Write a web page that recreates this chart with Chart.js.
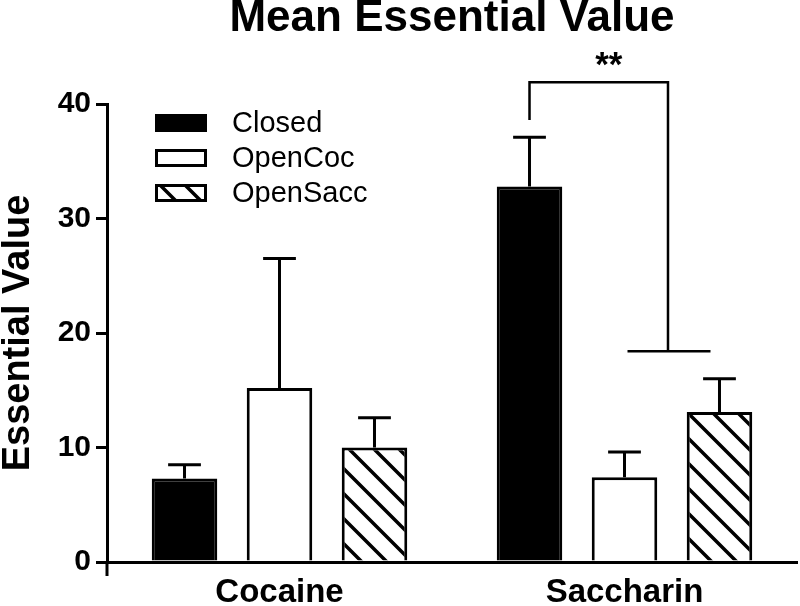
<!DOCTYPE html>
<html>
<head>
<meta charset="utf-8">
<script src="https://cdn.jsdelivr.net/npm/chart.js@4.4.1/dist/chart.umd.min.js"></script>
<style>
  html, body { margin: 0; padding: 0; background: #ffffff; }
  #wrap { width: 800px; height: 606px; }
</style>
</head>
<body>
<div id="wrap"><canvas id="c" width="800" height="606"></canvas></div>
<script>
// ---- data ----
const categories = ['Cocaine', 'Saccharin'];
const seriesNames = ['Closed', 'OpenCoc', 'OpenSacc'];
const closedMeans = [7.3, 32.8];
const openCocMeans = [15.2, 7.4];
const openSaccMeans = [10.0, 13.1];
const closedSem = [1.2, 4.3];
const openCocSem = [11.3, 2.2];
const openSaccSem = [2.6, 2.9];
const yTicks = [0, 10, 20, 30, 40];
// significance bracket levels (y values): left leg bottom, bracket top, right leg bottom
const bracketLevels = [38.6, 41.9, 18.4];
const sigLabel = '**';

const FONT = "'Liberation Sans', Arial, Helvetica, sans-serif";

function makeHatch() {
  const s = 25;
  const p = document.createElement('canvas');
  p.width = s; p.height = s;
  const g = p.getContext('2d');
  g.fillStyle = '#ffffff';
  g.fillRect(0, 0, s, s);
  g.strokeStyle = '#000000';
  g.lineWidth = 3.5;
  g.beginPath();
  g.moveTo(-5, -5); g.lineTo(s + 5, s + 5);
  g.moveTo(-5, s - 5); g.lineTo(5, s + 5);
  g.moveTo(s - 5, -5); g.lineTo(s + 5, 5);
  g.stroke();
  return document.getElementById('c').getContext('2d').createPattern(p, 'repeat');
}
const hatch = makeHatch();

const semList = [closedSem, openCocSem, openSaccSem];

const errorBars = {
  id: 'errorBars',
  afterDatasetsDraw(chart) {
    const ctx = chart.ctx;
    const y = chart.scales.y;
    ctx.save();
    ctx.strokeStyle = '#000';
    ctx.lineWidth = 3;
    chart.data.datasets.forEach((ds, i) => {
      const meta = chart.getDatasetMeta(i);
      meta.data.forEach((bar, j) => {
        const top = y.getPixelForValue(ds.data[j] + semList[i][j]);
        const half = bar.width / 4;
        ctx.beginPath();
        ctx.moveTo(bar.x, bar.y);
        ctx.lineTo(bar.x, top);
        ctx.moveTo(bar.x - half, top);
        ctx.lineTo(bar.x + half, top);
        ctx.stroke();
      });
    });
    ctx.restore();
  }
};

const extras = {
  id: 'extras',
  afterDraw(chart) {
    const ctx = chart.ctx;
    const y = chart.scales.y;
    const area = chart.chartArea;
    ctx.save();
    // y axis extension below baseline
    ctx.strokeStyle = '#000';
    ctx.lineWidth = 3;
    ctx.beginPath();
    ctx.moveTo(area.left, area.bottom);
    ctx.lineTo(area.left, area.bottom + 14);
    ctx.stroke();

    // significance bracket (Saccharin group)
    const b0 = chart.getDatasetMeta(0).data[1];
    const b1 = chart.getDatasetMeta(1).data[1];
    const b2 = chart.getDatasetMeta(2).data[1];
    const xl = b0.x;
    const xr = (b1.x + b2.x) / 2 - 4;
    const yl = y.getPixelForValue(bracketLevels[0]);
    const yt = y.getPixelForValue(bracketLevels[1]);
    const yr = y.getPixelForValue(bracketLevels[2]);
    ctx.lineWidth = 2.5;
    ctx.beginPath();
    ctx.moveTo(xl, yl);
    ctx.lineTo(xl, yt);
    ctx.lineTo(xr, yt);
    ctx.lineTo(xr, yr);
    ctx.moveTo(b1.x + 3, yr);
    ctx.lineTo(b2.x - 9, yr);
    ctx.stroke();
    ctx.fillStyle = '#000';
    ctx.font = 'bold 35px ' + FONT;
    ctx.textAlign = 'center';
    ctx.textBaseline = 'middle';
    ctx.fillText(sigLabel, (xl + xr) / 2 + 10, yt - 16);

    // legend
    const legendY = [123, 158, 193];
    chart.data.datasets.forEach((ds, i) => {
      const cy = legendY[i];
      ctx.fillStyle = ds.backgroundColor;
      ctx.fillRect(155, cy - 9, 52, 18);
      ctx.lineWidth = 3;
      ctx.strokeStyle = '#000';
      ctx.strokeRect(156.5, cy - 7.5, 49, 15);
      ctx.fillStyle = '#000';
      ctx.font = '29px ' + FONT;
      ctx.textAlign = 'left';
      ctx.textBaseline = 'middle';
      ctx.fillText(ds.label, 232, cy + 1);
    });
    ctx.restore();
  }
};

new Chart(document.getElementById('c'), {
  type: 'bar',
  data: {
    labels: categories,
    datasets: [
      { label: seriesNames[0], data: closedMeans, backgroundColor: '#000000', borderColor: '#000000', borderWidth: 3 },
      { label: seriesNames[1], data: openCocMeans, backgroundColor: '#ffffff', borderColor: '#000000', borderWidth: 3 },
      { label: seriesNames[2], data: openSaccMeans, backgroundColor: hatch, borderColor: '#000000', borderWidth: 3 }
    ]
  },
  options: {
    responsive: false,
    animation: false,
    devicePixelRatio: 1,
    datasets: { bar: { categoryPercentage: 0.826, barPercentage: 0.69 } },
    layout: { padding: { left: 0, right: 3, top: 0, bottom: 0 } },
    plugins: {
      legend: { display: false },
      tooltip: { enabled: false },
      title: {
        display: true,
        fullSize: false,
        text: 'Mean Essential Value',
        color: '#000',
        font: { family: FONT, size: 44, weight: 'bold', lineHeight: 0.85 },
        padding: { top: 0, bottom: 66.6 }
      }
    },
    scales: {
      x: {
        type: 'category',
        offset: true,
        grid: { display: false, drawTicks: false, tickLength: 0 },
        border: { display: true, color: '#000', width: 3 },
        ticks: { color: '#000', padding: 11, font: { family: FONT, size: 33, weight: 'bold', lineHeight: 1.2 } },
        afterFit(scale) { scale.height = 44; }
      },
      y: {
        min: 0,
        max: 40,
        afterBuildTicks(scale) { scale.ticks = yTicks.map(v => ({ value: v })); },
        grid: { drawOnChartArea: false, drawTicks: true, tickLength: 11, color: '#000', lineWidth: 3 },
        border: { display: true, color: '#000', width: 3 },
        ticks: { color: '#000', padding: 5, font: { family: FONT, size: 30, weight: 'bold' } },
        title: {
          display: true,
          text: 'Essential Value',
          color: '#000',
          padding: { top: 0, bottom: 0 },
          font: { family: FONT, size: 38, weight: 'bold', lineHeight: 1 }
        },
        afterFit(scale) { scale.width = 107; }
      }
    }
  },
  plugins: [errorBars, extras]
});
</script>
</body>
</html>
